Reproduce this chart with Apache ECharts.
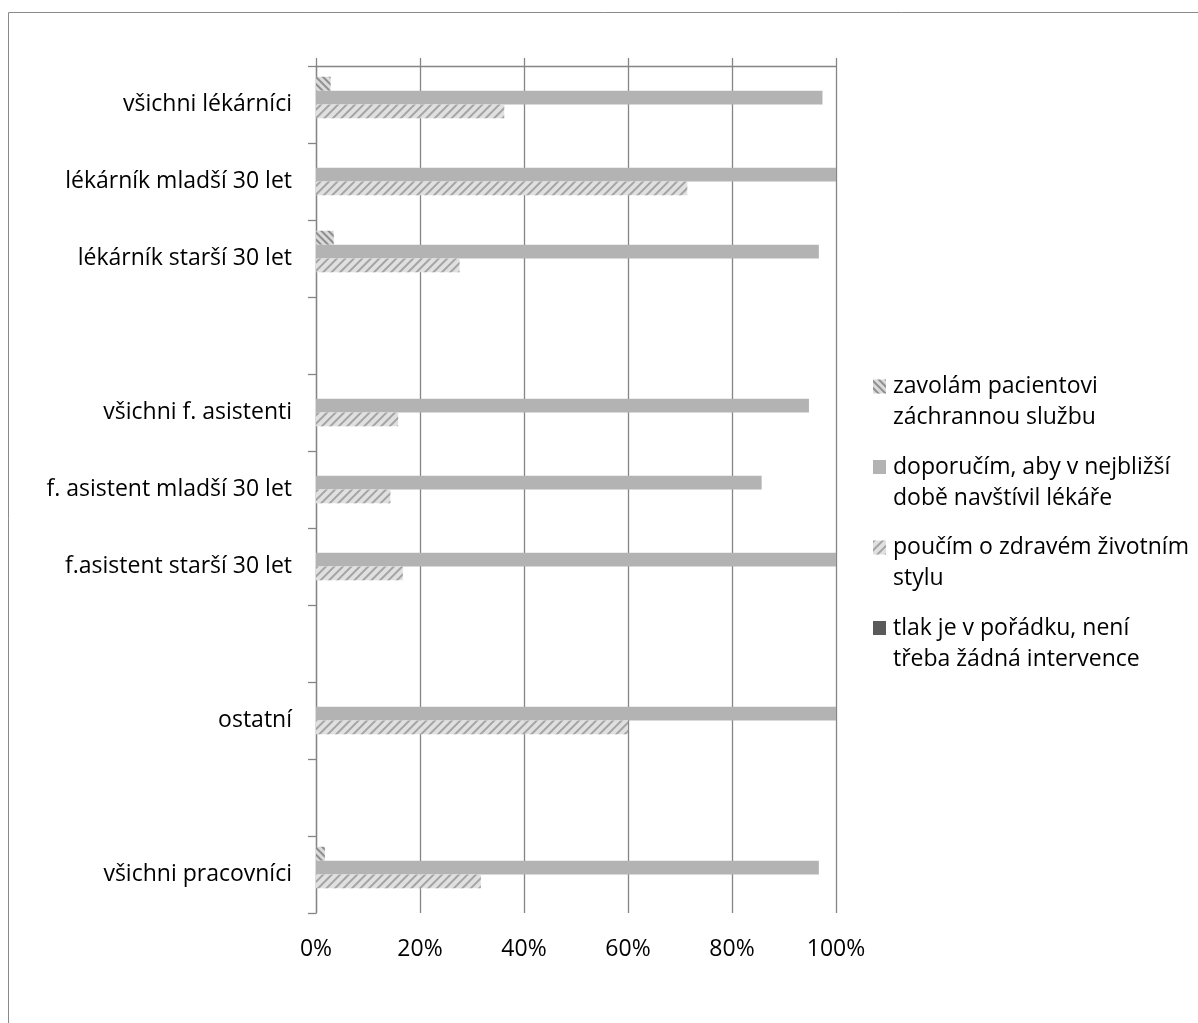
<!DOCTYPE html>
<html>
<head>
<meta charset="utf-8">
<title>Reakce na zvýšený krevní tlak</title>
<script src="https://cdn.jsdelivr.net/npm/echarts@6/dist/echarts.min.js"></script>
<style>
  html, body { margin: 0; padding: 0; background: #ffffff; }
  #chart { width: 1198px; height: 1023px; }
</style>
</head>
<body>
<div id="chart"></div>
<script>
// Respondent groups, top to bottom (empty rows separate the blocks)
const categories = [
  'všichni lékárníci',
  'lékárník mladší 30 let',
  'lékárník starší 30 let',
  ' ',
  'všichni f. asistenti',
  'f. asistent mladší 30 let',
  'f.asistent starší 30 let',
  '  ',
  'ostatní',
  '   ',
  'všichni pracovníci'
];

// Answer options (legend text, wrapped onto two lines)
const answerNames = [
  'zavolám pacientovi\nzáchrannou službu',
  'doporučím, aby v nejbližší\ndobě navštívil lékáře',
  'poučím o zdravém životním\nstylu',
  'tlak je v pořádku, není\ntřeba žádná intervence'
];

// Share of respondents choosing each answer, in %
const zavolam   = [2.8, 0, 3.4, null, 0, 0, 0, null, 0, null, 1.7];
const doporucim = [97.4, 100, 96.7, null, 94.8, 85.7, 100, null, 100, null, 96.7];
const poucim    = [36.2, 71.4, 27.6, null, 15.8, 14.3, 16.7, null, 60, null, 31.7];
const tlak      = [0, 0, 0, null, 0, 0, 0, null, 0, null, 0];

// Value axis ticks
const xTicks = [0, 20, 40, 60, 80, 100];

const FONT = '"Open Sans", "Noto Sans", sans-serif';
const LINE = '#858585';
const LINE_W = 1.3;

const chart = echarts.init(document.getElementById('chart'), null, { renderer: 'canvas' });

const barBase = {
  type: 'bar',
  barGap: '0%',
  barCategoryGap: '28%',
  xAxisIndex: 0,
  yAxisIndex: 0
};

const option = {
  backgroundColor: '#ffffff',
  animation: false,
  graphic: [{
    type: 'rect',
    silent: true,
    shape: { x: 8.5, y: 12.5, width: 1400, height: 1200 },
    style: { fill: 'none', stroke: '#8a8a8a', lineWidth: 1 }
  }],
  grid: { left: 316, right: 362, top: 66, bottom: 110, containLabel: false },
  xAxis: [{
    type: 'value',
    position: 'bottom',
    min: xTicks[0],
    max: xTicks[xTicks.length - 1],
    interval: xTicks[1] - xTicks[0],
    axisLine: { show: false },
    axisTick: { show: false },
    axisLabel: {
      formatter: '{value}%',
      margin: 25,
      fontFamily: FONT,
      fontSize: 23,
      color: '#000000'
    },
    splitLine: { show: true, lineStyle: { color: LINE, width: LINE_W } }
  }, {
    type: 'value',
    position: 'top',
    min: xTicks[0],
    max: xTicks[xTicks.length - 1],
    interval: xTicks[1] - xTicks[0],
    axisLine: { show: true, lineStyle: { color: LINE, width: LINE_W } },
    axisTick: { show: true, length: 8, lineStyle: { color: LINE, width: LINE_W } },
    axisLabel: { show: false },
    splitLine: { show: false }
  }],
  yAxis: {
    type: 'category',
    inverse: true,
    data: categories,
    axisLine: { show: true, lineStyle: { color: LINE, width: LINE_W } },
    axisTick: { show: true, length: 8, lineStyle: { color: LINE, width: LINE_W } },
    axisLabel: {
      margin: 24,
      fontFamily: FONT,
      fontSize: 23,
      color: '#000000'
    },
    splitLine: { show: false }
  },
  legend: {
    orient: 'vertical',
    left: 873,
    top: 340,
    padding: 0,
    itemGap: -12.5,
    itemWidth: 13,
    itemHeight: 14,
    icon: 'rect',
    selectedMode: false,
    data: answerNames,
    // a blank leading line keeps the swatch level with the first text line
    formatter: function (name) { return '\n' + name; },
    textStyle: {
      fontFamily: FONT,
      fontSize: 23,
      lineHeight: 31,
      color: '#000000',
      padding: [0, 0, 0, 2]
    }
  },
  series: [
    Object.assign({}, barBase, {
      name: answerNames[0],
      data: zavolam,
      itemStyle: {
        color: '#dadada',
        decal: {
          symbol: 'rect',
          symbolSize: 1,
          color: '#8e8e8e',
          dashArrayX: [1, 0],
          dashArrayY: [2, 3],
          rotation: Math.PI / 4
        }
      }
    }),
    Object.assign({}, barBase, {
      name: answerNames[1],
      data: doporucim,
      itemStyle: { color: '#b3b3b3' }
    }),
    Object.assign({}, barBase, {
      name: answerNames[2],
      data: poucim,
      itemStyle: {
        color: '#e0e0e0',
        decal: {
          symbol: 'rect',
          symbolSize: 1,
          color: '#a4a4a4',
          dashArrayX: [1, 0],
          dashArrayY: [1.5, 3.5],
          rotation: -Math.PI / 4
        }
      }
    }),
    Object.assign({}, barBase, {
      name: answerNames[3],
      data: tlak,
      itemStyle: { color: '#5a5a5a' }
    })
  ]
};

chart.setOption(option);
</script>
</body>
</html>
